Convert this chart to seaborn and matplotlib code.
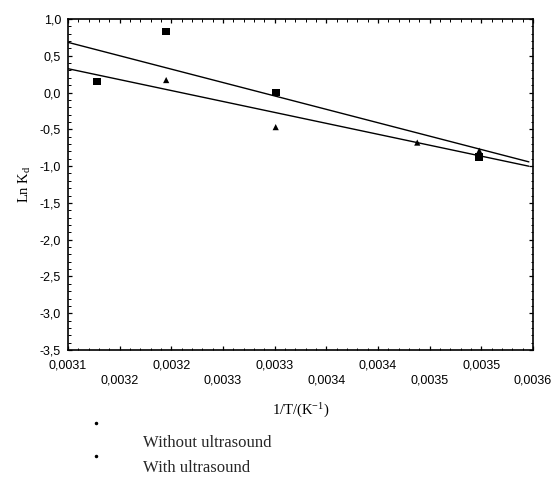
import matplotlib
matplotlib.use("Agg")
import matplotlib.pyplot as plt
import seaborn as sns
import numpy as np
import pandas as pd
from matplotlib.ticker import MultipleLocator, FixedLocator
from matplotlib.lines import Line2D

# ---- data ----
x_without = [0.003128, 0.003195, 0.003301, 0.003498]
y_without = [0.15, 0.83, 0.00, -0.88]
x_with = [0.003195, 0.003301, 0.003438, 0.003498]
y_with = [0.17, -0.47, -0.68, -0.79]
series_labels = ["Without ultrasound", "With ultrasound"]
x_ticks = [0.0031, 0.00315, 0.0032, 0.00325, 0.0033, 0.00335,
           0.0034, 0.00345, 0.0035, 0.00355]
x_tick_labels = ["0,0031", "0,0032", "0,0032", "0,0033", "0,0033", "0,0034",
                 "0,0034", "0,0035", "0,0035", "0,0036"]
y_ticks = [-3.5, -3.0, -2.5, -2.0, -1.5, -1.0, -0.5, 0.0, 0.5, 1.0]
y_tick_labels = ["-3,5", "-3,0", "-2,5", "-2,0", "-1,5", "-1,0", "-0,5",
                 "0,0", "0,5", "1,0"]

sns.set_style("ticks")
plt.rcParams["font.family"] = ["Liberation Sans", "DejaVu Sans"]
plt.rcParams["mathtext.default"] = "regular"

fig = plt.figure(figsize=(5.51, 4.84), dpi=100)
ax = fig.add_axes([68 / 551, 1 - 350 / 484, (533 - 68) / 551, (350 - 19) / 484])

# regression lines span from the left axis edge to just before the right edge
ax.set_xlim(0.0031, 0.003546)
ax.set_ylim(-3.5, 1.0)

df_wo = pd.DataFrame({"x": x_without, "y": y_without})
df_w = pd.DataFrame({"x": x_with, "y": y_with})

sns.regplot(data=df_wo, x="x", y="y", ax=ax, ci=None, truncate=False,
            marker="s", color="black",
            scatter_kws={"s": 30, "edgecolor": "none", "alpha": 1},
            line_kws={"lw": 1.0})
sns.regplot(data=df_w, x="x", y="y", ax=ax, ci=None, truncate=False,
            marker="^", color="black",
            scatter_kws={"s": 20, "edgecolor": "none", "alpha": 1},
            line_kws={"lw": 1.0})

ax.set_xlim(0.0031, 0.00355)
ax.set_ylim(-3.5, 1.0)

ax.xaxis.set_major_locator(FixedLocator(x_ticks))
labels = [lab if i % 2 == 0 else "\n" + lab for i, lab in enumerate(x_tick_labels)]
ax.set_xticklabels(labels, fontsize=9, linespacing=1.3)
ax.xaxis.set_minor_locator(MultipleLocator(0.00001))
ax.yaxis.set_major_locator(FixedLocator(y_ticks))
ax.set_yticklabels(y_tick_labels, fontsize=9)
ax.yaxis.set_minor_locator(MultipleLocator(0.1))

ax.tick_params(which="both", direction="in", top=True, right=True, colors="black")
ax.tick_params(which="major", length=3, width=0.9)
ax.tick_params(axis="x", which="major", pad=7)
ax.tick_params(axis="y", which="major", pad=5)
ax.tick_params(which="minor", length=1.8, width=0.7)
for s in ax.spines.values():
    s.set_linewidth(1.2)
    s.set_color("black")

ax.set_xlabel("1/T/(K$^{-1}$)", family="Liberation Serif", fontsize=10.5, labelpad=11)
ax.set_ylabel("Ln K$_d$", family="Liberation Serif", fontsize=10.5, labelpad=5)
ax.xaxis.label.set_color("black")
ax.yaxis.label.set_color("black")

# legend as drawn in the reference: tiny dots above the labels
for yy in (423, 456):
    fig.add_artist(Line2D([96 / 551], [1 - yy / 484], marker="o", markersize=1.5,
                          color="black", lw=0, transform=fig.transFigure))
fig.text(143 / 551, 1 - 443 / 484, series_labels[0], family="Liberation Serif",
         fontsize=12, va="center", ha="left")
fig.text(143 / 551, 1 - 468 / 484, series_labels[1], family="Liberation Serif",
         fontsize=12, va="center", ha="left")

fig.savefig("out.png", dpi=100, facecolor="white")
